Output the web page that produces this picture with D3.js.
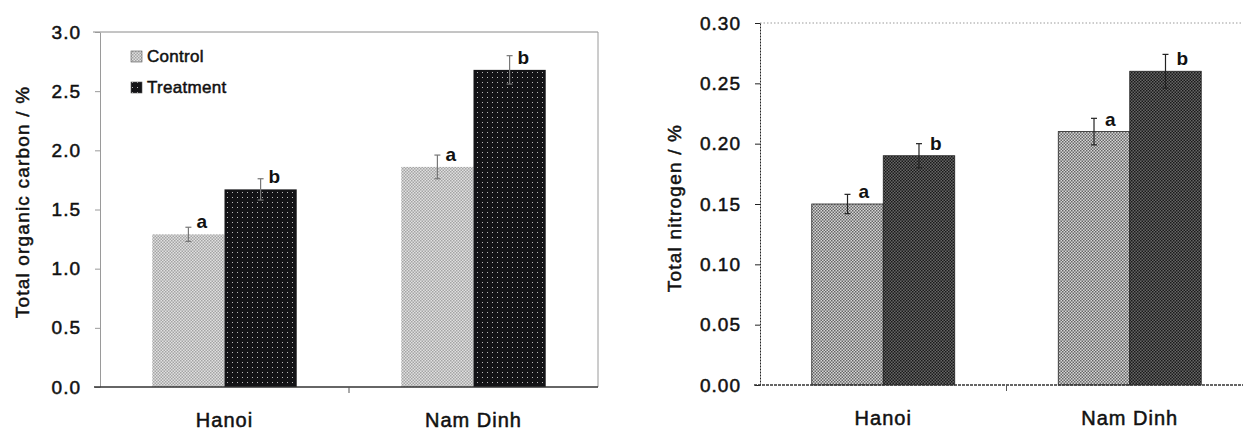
<!DOCTYPE html>
<html>
<head>
<meta charset="utf-8">
<script src="https://cdn.jsdelivr.net/npm/d3@7"></script>
<style>
  body { margin: 0; background: #fff; }
  text { font-family: "Liberation Sans", Arial, sans-serif; fill: #111; }
  .heavy { stroke: #111; stroke-width: 0.5px; }
</style>
</head>
<body>
<svg id="chart" width="1243" height="430"></svg>
<script>
// data
var sites = ["Hanoi", "Nam Dinh"];
var groups = ["Control", "Treatment"];

var carbonControl = [1.29, 1.86],
    carbonTreatment = [1.67, 2.68],
    carbonControlErr = [0.06, 0.10],
    carbonTreatmentErr = [0.09, 0.12],
    carbonLetters = [["a", "b"], ["a", "b"]];

var nitrogenControl = [0.15, 0.21],
    nitrogenTreatment = [0.19, 0.26],
    nitrogenControlErr = [0.008, 0.011],
    nitrogenTreatmentErr = [0.010, 0.014],
    nitrogenLetters = [["a", "b"], ["a", "b"]];

var carbonTicks = [0, 0.5, 1.0, 1.5, 2.0, 2.5, 3.0];
var nitrogenTicks = [0, 0.05, 0.10, 0.15, 0.20, 0.25, 0.30];

var svg = d3.select("#chart");
var defs = svg.append("defs");

// fill textures (halftone look of the scan)
function checker(id, size, bg, fg) {
  var p = defs.append("pattern").attr("id", id)
      .attr("patternUnits", "userSpaceOnUse")
      .attr("width", size * 2).attr("height", size * 2);
  p.append("rect").attr("width", size * 2).attr("height", size * 2).attr("fill", bg);
  p.append("rect").attr("width", size).attr("height", size).attr("fill", fg);
  p.append("rect").attr("x", size).attr("y", size).attr("width", size).attr("height", size).attr("fill", fg);
}
checker("cCtrl", 1.5, "#e0e0e0", "#a4a4a4");
checker("nCtrl", 1.5, "#d6d6d6", "#666");
checker("nTrt", 1.5, "#666", "#1a1a1a");
var dots = defs.append("pattern").attr("id", "cTrt")
    .attr("patternUnits", "userSpaceOnUse").attr("width", 5).attr("height", 5);
dots.append("rect").attr("width", 5).attr("height", 5).attr("fill", "#131316");
dots.append("rect").attr("x", 2).attr("y", 2).attr("width", 1).attr("height", 1).attr("fill", "#b8b8b8");

function rows(ctrl, trt, ctrlErr, trtErr, letters) {
  var out = [];
  sites.forEach(function(s, i) {
    out.push({site: s, group: "Control", v: ctrl[i], e: ctrlErr[i], l: letters[i][0]});
    out.push({site: s, group: "Treatment", v: trt[i], e: trtErr[i], l: letters[i][1]});
  });
  return out;
}

function panel(o) {
  var g = svg.append("g");
  var x = d3.scaleBand().domain(sites).range([o.x0, o.x1])
      .paddingInner(o.pad).paddingOuter(o.pad / 2);
  var xs = d3.scaleBand().domain(groups).range([0, x.bandwidth()]);
  var y = d3.scaleLinear().domain([0, o.max]).range([o.y0, o.y1]);

  // frame lines
  g.append("line").attr("x1", o.frameLeft).attr("x2", o.frameRight)
      .attr("y1", y(o.max)).attr("y2", y(o.max))
      .attr("stroke", o.topColor).attr("stroke-width", 1)
      .attr("stroke-dasharray", o.topDash);
  if (o.rightLine) {
    g.append("line").attr("x1", o.frameRight).attr("x2", o.frameRight)
        .attr("y1", y(o.max)).attr("y2", y(0))
        .attr("stroke", "#9a9a9a").attr("stroke-width", 1);
  }

  // bars
  g.selectAll(".bar").data(o.data).enter().append("rect")
      .attr("x", function(d) { return x(d.site) + xs(d.group); })
      .attr("y", function(d) { return y(d.v); })
      .attr("width", xs.bandwidth())
      .attr("height", function(d) { return y(0) - y(d.v); })
      .attr("fill", function(d) { return d.group == "Control" ? o.fillC : o.fillT; })
      .attr("stroke", o.barStroke).attr("stroke-width", 0.8);

  // error bars
  var cx = function(d) { return x(d.site) + xs(d.group) + xs.bandwidth() / 2; };
  var eb = g.selectAll(".err").data(o.data).enter().append("g");
  eb.append("line").attr("x1", cx).attr("x2", cx)
      .attr("y1", function(d) { return y(d.v + d.e); })
      .attr("y2", function(d) { return y(d.v - d.e); })
      .attr("stroke", o.errColor).attr("stroke-width", 1.2);
  eb.append("line").attr("x1", function(d) { return cx(d) - 3; }).attr("x2", function(d) { return cx(d) + 3; })
      .attr("y1", function(d) { return y(d.v + d.e); }).attr("y2", function(d) { return y(d.v + d.e); })
      .attr("stroke", o.errColor).attr("stroke-width", 1.2);
  eb.append("line").attr("x1", function(d) { return cx(d) - 3; }).attr("x2", function(d) { return cx(d) + 3; })
      .attr("y1", function(d) { return y(d.v - d.e); }).attr("y2", function(d) { return y(d.v - d.e); })
      .attr("stroke", o.errColor).attr("stroke-width", 1.2);
  eb.append("text")
      .attr("x", function(d) { return cx(d) + o.letterDx; })
      .attr("y", function(d) { return y(d.v) - 6; })
      .attr("font-size", 19).attr("font-weight", "bold")
      .text(function(d) { return d.l; });

  // y axis
  var ya = g.append("g").attr("transform", "translate(" + o.x0 + ",0)")
      .call(d3.axisLeft(y).tickValues(o.ticks).tickFormat(d3.format(o.fmt))
        .tickSize(5).tickSizeOuter(0).tickPadding(14));
  ya.select(".domain").attr("stroke", o.axisColor).attr("stroke-dasharray", o.axisDash);
  ya.selectAll(".tick line").attr("stroke", o.axisColor);
  ya.selectAll(".tick text").attr("font-size", 19).attr("letter-spacing", 1)
      .attr("class", "heavy")
      .style("font-family", "'Liberation Sans', Arial, sans-serif").attr("fill", "#111");

  // x axis
  var xa = g.append("g").attr("transform", "translate(0," + y(0) + ")");
  xa.append("line").attr("x1", o.x0 - 6).attr("x2", o.frameRight)
      .attr("stroke", o.baseColor).attr("stroke-width", 1.4)
      .attr("stroke-dasharray", o.baseDash);
  xa.append("line").attr("x1", (x("Hanoi") + x("Nam Dinh") + x.bandwidth()) / 2)
      .attr("x2", (x("Hanoi") + x("Nam Dinh") + x.bandwidth()) / 2)
      .attr("y1", 0).attr("y2", 6).attr("stroke", "#555");
  xa.selectAll(".lab").data(sites).enter().append("text")
      .attr("class", "heavy")
      .attr("x", function(d) { return x(d) + x.bandwidth() / 2; })
      .attr("y", 40)
      .attr("text-anchor", "middle").attr("font-size", 20).attr("letter-spacing", 1)
      .text(function(d) { return d; });

  // y title
  g.append("text")
      .attr("class", "heavy")
      .attr("transform", "translate(" + o.titleX + "," + o.titleY + ") rotate(-90)")
      .attr("text-anchor", "middle").attr("font-size", 19).attr("letter-spacing", 1.2)
      .text(o.title);
  return g;
}

var left = panel({
  data: rows(carbonControl, carbonTreatment, carbonControlErr, carbonTreatmentErr, carbonLetters),
  x0: 100, x1: 598, y0: 387, y1: 32, max: 3.0, pad: 0.42,
  frameLeft: 93, frameRight: 598, rightLine: true,
  topColor: "#8a8a8a", topDash: null,
  fillC: "url(#cCtrl)", fillT: "url(#cTrt)", barStroke: "none",
  errColor: "#777", letterDx: 8,
  ticks: carbonTicks, fmt: ".1f",
  axisColor: "#9a9a9a", axisDash: null,
  baseColor: "#333", baseDash: null,
  title: "Total organic carbon / %", titleX: 29, titleY: 202
});

var right = panel({
  data: rows(nitrogenControl, nitrogenTreatment, nitrogenControlErr, nitrogenTreatmentErr, nitrogenLetters),
  x0: 760, x1: 1253, y0: 385, y1: 23, max: 0.30, pad: 0.42,
  frameLeft: 760, frameRight: 1243, rightLine: false,
  topColor: "#9a9a9a", topDash: "1.5,2",
  fillC: "url(#nCtrl)", fillT: "url(#nTrt)", barStroke: "#222",
  errColor: "#222", letterDx: 11,
  ticks: nitrogenTicks, fmt: ".2f",
  axisColor: "#222", axisDash: "2,1",
  baseColor: "#333", baseDash: "3,1",
  title: "Total nitrogen / %", titleX: 681, titleY: 208
});

// legend (left panel only)
var legend = svg.append("g");
var legendFills = ["url(#cCtrl)", "url(#cTrt)"];
legend.selectAll("rect").data(groups).enter().append("rect")
    .attr("x", 131)
    .attr("y", function(d, i) { return 51 + i * 31; })
    .attr("width", 11).attr("height", 11)
    .attr("fill", function(d, i) { return legendFills[i]; })
    .attr("stroke", "#555").attr("stroke-width", 0.6);
legend.selectAll("text").data(groups).enter().append("text")
    .attr("class", "heavy")
    .attr("x", 147)
    .attr("y", function(d, i) { return 62 + i * 31; })
    .attr("font-size", 17).attr("letter-spacing", 0.3)
    .text(function(d) { return d; });
</script>
</body>
</html>
